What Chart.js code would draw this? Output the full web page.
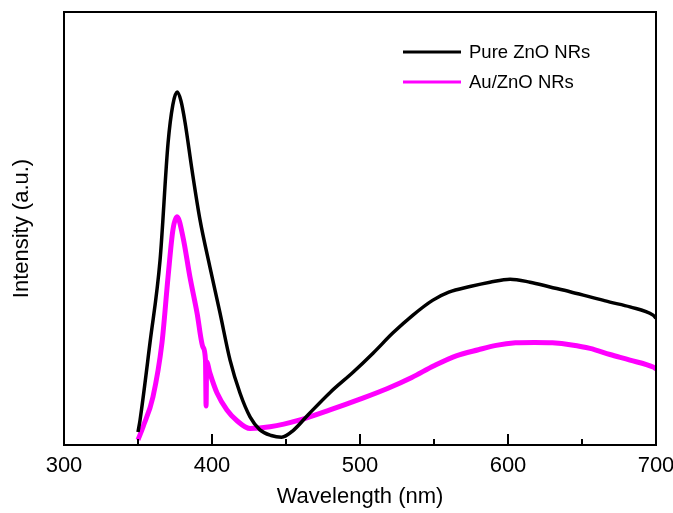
<!DOCTYPE html>
<html>
<head>
<meta charset="utf-8">
<script src="https://cdn.jsdelivr.net/npm/chart.js@4/dist/chart.umd.min.js"></script>
<style>
  html, body { margin: 0; padding: 0; background: #fff; }
  #wrap { width: 673px; height: 513px; }
</style>
</head>
<body>
<div id="wrap"><canvas id="pl"></canvas></div>
<script>
// Pure ZnO NRs (wavelength nm, intensity a.u.)
const pureX = [350, 351.4, 358.1, 364.9, 370.3, 373.5, 376.4, 379, 381.8, 386.5, 391.9, 398.6, 405.4, 412.2, 418.9,
  425.7, 432.4, 440, 447, 455, 465, 480, 495.3, 508.8, 522.3, 535.8, 549, 560, 574.3, 587.8, 601.4,
  614.9, 628.4, 641.9, 655.4, 668.9, 682.4, 698, 700];
const pureY = [3, 5.8, 23.6, 42.7, 69.7, 78.5, 81.5, 79.5, 74.5, 63.5, 52.0, 41.1, 30.5, 19.6, 12.0,
  6.5, 3.5, 2.2, 1.8, 3.4, 7.0, 12.2, 16.8, 21.2, 25.9, 30.0, 33.4, 35.3, 36.6, 37.6, 38.3,
  37.6, 36.5, 35.4, 34.2, 33.0, 31.9, 30.0, 29.3];

// Au/ZnO NRs
const auX = [350, 353.4, 360.1, 366.2, 370.3, 373.6, 376.4, 380.4, 385.1, 389.9, 393.9, 395.6, 396.0, 396.4,
  398.6, 403.4, 410.1, 416.9, 425.7, 439.2, 459.5, 479.7, 500, 518.2, 535, 550, 565, 580, 592,
  605, 618, 630, 643, 655.4, 668.9, 682.4, 698, 700];
const auY = [1.2, 4.2, 11.1, 23.6, 38.8, 49.7, 52.7, 48.0, 38.8, 30.5, 22.6, 19.6, 9.0, 19.2,
  16.6, 12.0, 8.1, 5.6, 3.8, 4.2, 5.8, 8.1, 10.6, 13.0, 15.6, 18.3, 20.6, 22.0, 23.0,
  23.6, 23.7, 23.6, 23.1, 22.3, 20.9, 19.6, 18.0, 17.6];

const seriesNames = ['Pure ZnO NRs', 'Au/ZnO NRs'];
const seriesColors = ['#000000', '#ff00ff'];

const FONT = 'Liberation Sans, Arial, sans-serif';

// frame, inward ticks and legend inside the plot
const framePlugin = {
  id: 'frame',
  afterDraw(chart) {
    const { ctx, chartArea: a, scales } = chart;
    const xs = scales.x;
    ctx.save();
    ctx.strokeStyle = '#000';
    ctx.lineWidth = 2;
    ctx.strokeRect(a.left, a.top, a.right - a.left, a.bottom - a.top);
    for (let v = 300; v <= 700; v += 50) {
      const px = Math.round(xs.getPixelForValue(v));
      const len = v % 100 === 0 ? 11 : 6;
      ctx.beginPath();
      ctx.moveTo(px, a.bottom);
      ctx.lineTo(px, a.bottom - len);
      ctx.stroke();
    }
    // legend
    ctx.font = '18.5px ' + FONT;
    ctx.textBaseline = 'middle';
    ctx.fillStyle = '#000';
    chart.data.datasets.forEach((ds, i) => {
      const y = 52 + i * 30;
      ctx.strokeStyle = ds.borderColor;
      ctx.lineWidth = 3;
      ctx.beginPath();
      ctx.moveTo(403, y);
      ctx.lineTo(461, y);
      ctx.stroke();
      ctx.fillText(ds.label, 469, y + 1);
    });
    ctx.restore();
  }
};

new Chart(document.getElementById('pl'), {
  type: 'line',
  data: {
    datasets: [
      {
        label: seriesNames[0],
        data: pureX.map((x, i) => ({ x: x, y: pureY[i] })),
        borderColor: seriesColors[0],
        borderWidth: 3.5,
        pointRadius: 0,
        cubicInterpolationMode: 'monotone'
      },
      {
        label: seriesNames[1],
        data: auX.map((x, i) => ({ x: x, y: auY[i] })),
        borderColor: seriesColors[1],
        borderWidth: 5,
        pointRadius: 0,
        cubicInterpolationMode: 'monotone'
      }
    ]
  },
  options: {
    responsive: true,
    maintainAspectRatio: false,
    animation: false,
    layout: { padding: { top: 12, right: 17, left: 0, bottom: 0 } },
    plugins: {
      legend: { display: false },
      tooltip: { enabled: false }
    },
    scales: {
      x: {
        type: 'linear',
        min: 300,
        max: 700,
        grid: { display: false, drawTicks: false },
        border: { display: false },
        ticks: {
          stepSize: 100,
          autoSkip: false,
          maxRotation: 0,
          padding: 8,
          color: '#000',
          font: { family: FONT, size: 22 }
        },
        title: {
          display: true,
          text: 'Wavelength (nm)',
          color: '#000',
          font: { family: FONT, size: 22 },
          padding: { top: 0, bottom: 3 }
        },
        afterFit(scale) {
          scale.height = 68;
          scale.paddingLeft = 0;
          scale.paddingRight = 0;
        }
      },
      y: {
        min: 0,
        max: 100,
        grid: { display: false, drawTicks: false },
        border: { display: false },
        ticks: { display: false },
        title: {
          display: true,
          text: 'Intensity (a.u.)',
          color: '#000',
          font: { family: FONT, size: 22 },
          padding: { top: 9, bottom: 0 }
        },
        afterFit(scale) { scale.width = 64; }
      }
    }
  },
  plugins: [framePlugin]
});
</script>
</body>
</html>
